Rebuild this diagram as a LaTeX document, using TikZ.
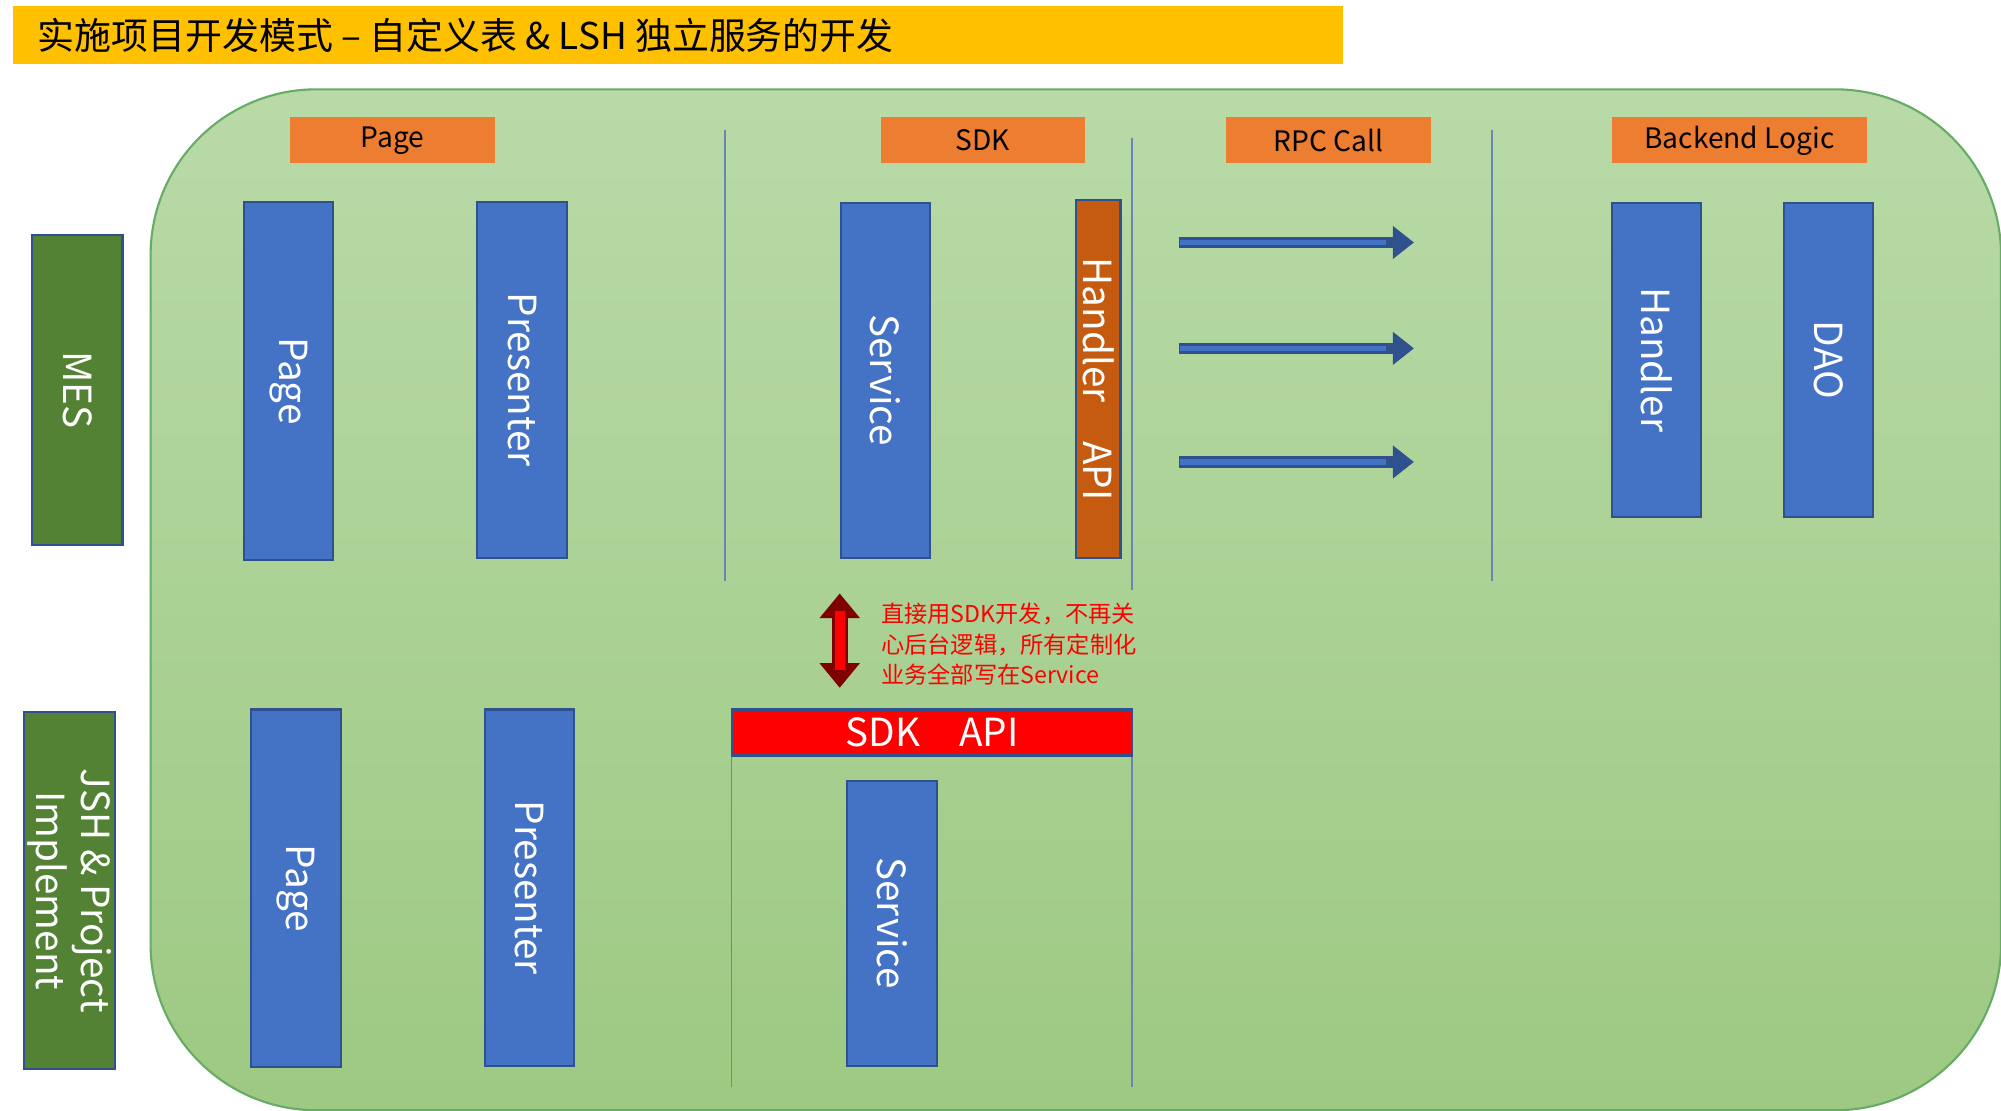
\documentclass[tikz,border=0pt]{standalone}
\usepackage{fontspec}
\setmainfont{Noto Sans CJK SC}
\usetikzlibrary{arrows.meta}
\newdimen\px \px=0.01276cm
\definecolor{bluebox}{HTML}{4472C4}
\definecolor{blueline}{HTML}{2F528F}
\definecolor{orangehead}{HTML}{ED7D31}
\definecolor{darkorange}{HTML}{C55A11}
\definecolor{greenbox}{HTML}{548235}
\definecolor{bgtop}{HTML}{B9DAA8}
\definecolor{bgbot}{HTML}{9DC982}
\definecolor{titlebar}{HTML}{FFC000}
\begin{document}
\begin{tikzpicture}[x=\px, y=-\px,
   header/.style={fill=orangehead, minimum width=160\px, minimum height=36\px, inner sep=0pt, font=\fontsize{8}{9}\selectfont},
   layer/.style={fill=bluebox, draw=blueline, line width=0.6pt, minimum width=70\px, minimum height=#1\px, inner sep=0pt},
   side/.style={fill=greenbox, draw=blueline, line width=0.6pt, minimum width=71\px, minimum height=#1\px, inner sep=0pt},
   vtext/.style={text=white, rotate=-90, font=\fontsize{11}{13}\selectfont, align=center},
   sep/.style={draw=blueline!70, line width=0.4pt},
   call/.style={draw=blueline, line width=3.2pt, arrows={-Triangle[length=6pt, width=9pt]}}]
   \useasboundingbox (0,0) rectangle (1568,870);
   % title
   \node[fill=titlebar, minimum width=1042\px, minimum height=45\px, inner sep=0pt] (title) at (531,27.5) {};
   \node[anchor=west, font=\fontsize{10.5}{12}\selectfont] (titletext) at (20,27.5) {实施项目开发模式 – 自定义表 \& LSH 独立服务的开发};
   % background
   \shade[top color=bgtop, bottom color=bgbot, draw=green!45!black!60, line width=0.6pt, rounded corners=130\px]
      (118,70) rectangle (1568,870);
   % side labels
   \node[side=243] (mes) at (60.5,305.5) {};
   \node[vtext] at (mes) {MES};
   \node[side=280] (jsh) at (54.5,698) {};
   \node[vtext] at (jsh) {JSH \& Project\\Implement};
   % headers
   \node[header] (hpage) at (307.5,110) {Page};
   \node[header] (hsdk) at (770,110) {SDK};
   \node[header] (hrpc) at (1041,110) {RPC Call};
   \node[header, minimum width=200\px] (hback) at (1363,110) {Backend Logic};
   % upper row
   \node[layer=281] (page) at (226,298.5) {};
   \node[vtext] at (page) {Page};
   \node[layer=279] (presenter) at (409,297.5) {};
   \node[vtext] at (presenter) {Presenter};
   \node[layer=278] (service) at (694,298) {};
   \node[vtext] at (service) {Service};
   \node[layer=280, fill=darkorange, minimum width=35\px] (handlerapi) at (860.5,297) {};
   \node[vtext] at (handlerapi) {Handler\quad API};
   \node[layer=246] (handler) at (1298,282) {};
   \node[vtext] at (handler) {Handler};
   \node[layer=246] (dao) at (1433,282) {};
   \node[vtext] at (dao) {DAO};
   % separators
   \draw[sep] (568,102) -- (568,455);
   \draw[sep] (887,108) -- (887,462);
   \draw[sep] (1169,102) -- (1169,455);
   \draw[sep] (573,592) -- (573,852);
   \draw[sep] (887,592) -- (887,852);
   % rpc arrows
   \foreach \y/\n in {190/a, 273/b, 362/c} {
      \coordinate (rpc-\n-start) at (924,\y);
      \coordinate (rpc-\n-end) at (1108,\y);
      \draw[call] (rpc-\n-start) -- (rpc-\n-end);
      \draw[bluebox, line width=1.6pt, shorten >=8pt] (rpc-\n-start) ++(1,0) -- (rpc-\n-end);
   }
   % lower row
   \node[layer=280] (page2) at (232,696) {};
   \node[vtext] at (page2) {Page};
   \node[layer=279] (presenter2) at (415,695.5) {};
   \node[vtext] at (presenter2) {Presenter};
   \node[fill=red, draw=blueline, line width=0.6pt, minimum width=313\px, minimum height=36\px, inner sep=0pt,
         text=white, font=\fontsize{11}{13}\selectfont] (sdkapi) at (730.5,574) {SDK\quad API};
   \node[layer=223] (service2) at (699,723.5) {};
   \node[vtext] at (service2) {Service};
   % sdk arrow
   \coordinate (sdk-top) at (658,465);
   \coordinate (sdk-bot) at (658,539);
   \draw[draw=red!50!black, line width=4.6pt, arrows={Triangle[length=7pt,width=11pt]-Triangle[length=7pt,width=11pt]}] (sdk-top) -- (sdk-bot);
   \draw[red, line width=2.8pt, shorten <=5pt, shorten >=5pt] (sdk-top) -- (sdk-bot);
   \node[anchor=north west, text=red, align=left, inner sep=0pt, font=\fontsize{6.6}{8.7}\selectfont] (note) at (690,472)
      {直接用SDK开发，不再关\\心后台逻辑，所有定制化\\业务全部写在Service};
\end{tikzpicture}
\end{document}
